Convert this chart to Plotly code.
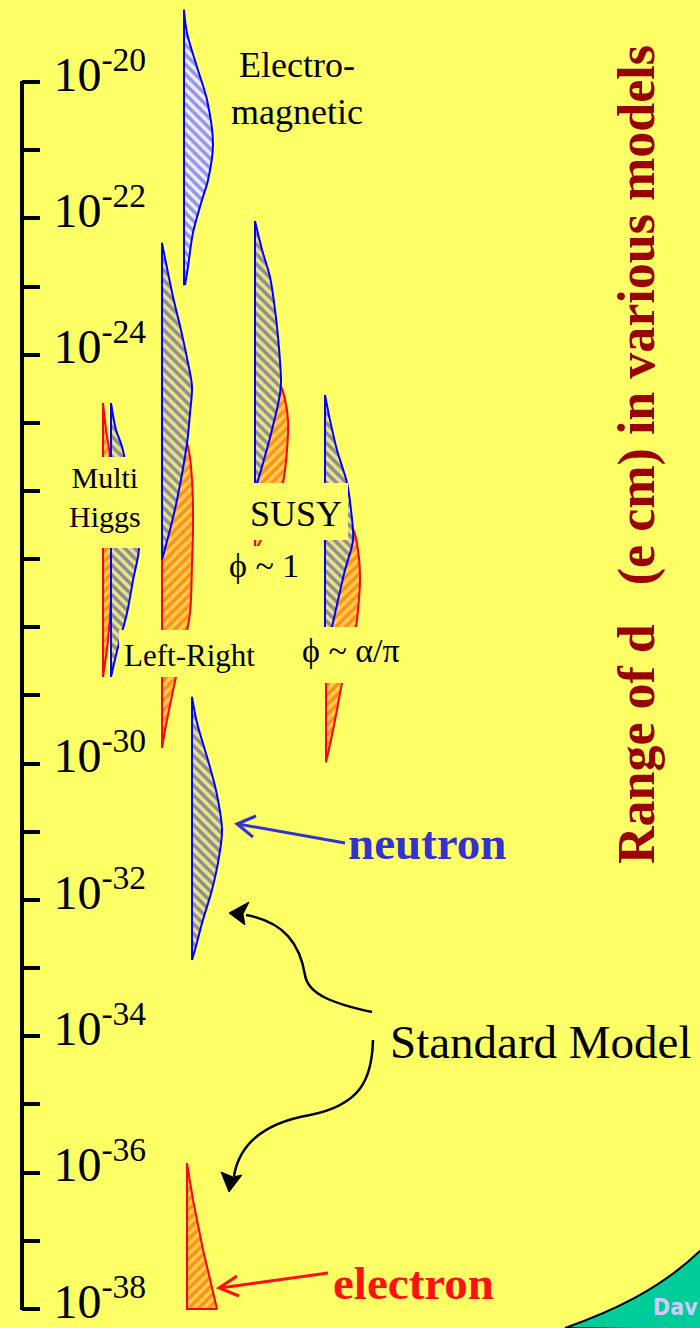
import plotly.graph_objects as go

# ---- data: log10(d / e cm) along each model's range, with relative density widths ----
em_logd = [-18.94, -19.28, -19.78, -20.26, -20.92, -21.44, -21.73, -22.21, -22.71, -22.98]
em_w = [0, 3, 13, 23, 29, 24, 18, 9, 4, 1]

mh_n_logd = [-24.71, -25.10, -25.35, -25.84, -26.43, -26.84, -27.31, -27.79, -28.29, -28.73]
mh_n_w = [0, 5, 11, 18, 25, 28, 22, 16, 7, 0]
mh_e_logd = [-24.71, -25.10, -25.50, -26.84, -27.60, -28.19, -28.73]
mh_e_w = [0, 3, 7, 9, 8, 5, 0]

lr_n_logd = [-22.36, -23.15, -23.64, -24.12, -24.47, -24.86, -25.30, -26.13, -26.57, -27.01]
lr_n_w = [0, 11, 19, 26, 30, 28, 25, 15, 8, 0]
lr_e_logd = [-24.66, -25.30, -25.84, -26.57, -27.06, -27.79, -28.33, -28.73, -29.07, -29.43, -29.77]
lr_e_w = [0, 25, 30, 31, 30, 28, 21, 14, 9, 4, 0]

susy1_n_logd = [-22.04, -22.46, -22.86, -23.34, -23.74, -24.42, -24.66, -25.10, -25.54, -25.99]
susy1_n_w = [0, 7, 15, 20, 23, 26, 24, 17, 9, 0]
susy1_e_logd = [-24.08, -24.44, -24.66, -24.96, -25.40, -25.88, -26.28, -26.72, -26.89]
susy1_e_w = [0, 25, 30, 33, 32, 28, 20, 6, 0]

susy2_n_logd = [-24.59, -24.96, -25.40, -25.88, -26.28, -26.72, -27.16, -27.60, -27.99, -28.33]
susy2_n_w = [0, 5, 12, 22, 26, 28, 20, 13, 7, 0]
susy2_e_logd = [-26.21, -26.53, -26.87, -27.31, -27.75, -27.99, -28.82, -29.21, -29.58, -29.98]
susy2_e_w = [0, 26, 32, 34, 32, 30, 16, 11, 6, 0]

sm_n_logd = [-29.02, -29.40, -29.90, -30.39, -30.97, -31.37, -31.85, -32.34, -32.73, -32.88]
sm_n_w = [0, 5, 15, 24, 30, 27, 20, 10, 3, 0]

sm_e_logd = [-35.86, -36.40, -37.13, -37.72, -38.00]
sm_e_w = [0, 6, 16, 25, 30]

# decade ticks on the scale; only some carry a printed label
labelled_exponents = [-20, -22, -24, -30, -32, -34, -36, -38]
unlabelled_exponents = [-21, -23, -25, -26, -27, -28, -29, -31, -33, -35, -37]
scale_top, scale_bottom = -20, -38

# ---- layout helpers (figure is 700 x 1328 px, x axis in px) ----
W, H = 700, 1328
AXIS_X = 22
BG = "#ffff66"
SERIF = "Liberation Serif, Times New Roman, serif"
Y_RANGE = [-38.279, -18.797]


def py(v):
    return 1 - v / H


def paper_of_log(v):
    return (v - Y_RANGE[0]) / (Y_RANGE[1] - Y_RANGE[0])


BLUE_HATCH = dict(shape="\\", fgcolor="#3030b8", bgcolor="#ebe67c", size=7, solidity=0.5)
BLUE_HATCH_LIGHT = dict(shape="\\", fgcolor="#3a3acc", bgcolor="#eeeeff", size=7, solidity=0.5)
RED_HATCH = dict(shape="/", fgcolor="#ff4a10", bgcolor="#ffd040", size=7, solidity=0.5)


def half_violin(fig, base, logd, w, pattern, line_color, smooth=True, flat_bottom=False):
    # flat edge (straight), then the density curve filled back to it
    ex = [base, base]
    ey = [10 ** logd[0], 10 ** logd[-1]]
    if flat_bottom:
        ex.append(base + w[-1])
        ey.append(10 ** logd[-1])
    fig.add_trace(go.Scatter(x=ex, y=ey, mode="lines",
                             line=dict(color=line_color, width=2),
                             hoverinfo="skip", showlegend=False))
    fig.add_trace(go.Scatter(
        x=[base + v for v in w], y=[10 ** v for v in logd], mode="lines", fill="tonextx",
        fillcolor=pattern["bgcolor"], fillpattern=pattern,
        line=dict(color=line_color, width=2,
                  shape="spline" if smooth else "linear", smoothing=0.9),
        hoverinfo="skip", showlegend=False,
    ))


fig = go.Figure()
# red = electron, blue = neutron; neutron drawn over electron
half_violin(fig, 184, em_logd, em_w, BLUE_HATCH_LIGHT, "#0000ff")
half_violin(fig, 103, mh_e_logd, mh_e_w, RED_HATCH, "#ff0000")
half_violin(fig, 111, mh_n_logd, mh_n_w, BLUE_HATCH, "#0000ff")
half_violin(fig, 162, lr_e_logd, lr_e_w, RED_HATCH, "#ff0000")
half_violin(fig, 162, lr_n_logd, lr_n_w, BLUE_HATCH, "#0000ff")
half_violin(fig, 255, susy1_e_logd, susy1_e_w, RED_HATCH, "#ff0000")
half_violin(fig, 255, susy1_n_logd, susy1_n_w, BLUE_HATCH, "#0000ff")
half_violin(fig, 326, susy2_e_logd, susy2_e_w, RED_HATCH, "#ff0000")
half_violin(fig, 325, susy2_n_logd, susy2_n_w, BLUE_HATCH, "#0000ff")
half_violin(fig, 192, sm_n_logd, sm_n_w, BLUE_HATCH, "#0000ff")
half_violin(fig, 187, sm_e_logd, sm_e_w, RED_HATCH, "#ff0000", smooth=False, flat_bottom=True)

shapes = []
# scale line spanning the labelled decades
shapes.append(dict(type="line", xref="paper", yref="paper",
                   x0=AXIS_X / W, x1=AXIS_X / W,
                   y0=paper_of_log(scale_bottom) - 1.0 / H, y1=paper_of_log(scale_top) + 1.0 / H,
                   line=dict(color="black", width=4)))

# label backgrounds that cut through the bands
for x0, x1, y0, y1 in [(62, 150, 457, 548), (240, 348, 483, 540), (225, 305, 546, 586),
                       (119, 262, 630, 677), (292, 410, 627, 683)]:
    shapes.append(dict(type="rect", xref="x", yref="paper", x0=x0, x1=x1,
                       y0=py(y1), y1=py(y0), fillcolor=BG, line=dict(width=0), layer="above"))


def pth(cmds):
    out = []
    for c in cmds:
        if isinstance(c, str):
            out.append(c)
        else:
            out.append("%.2f,%.5f" % (c[0], py(c[1])))
    return " ".join(out)


def stroke(cmds, color, width):
    shapes.append(dict(type="path", xref="x", yref="paper", path=pth(cmds),
                       line=dict(color=color, width=width), layer="above"))


def solid(cmds, color):
    shapes.append(dict(type="path", xref="x", yref="paper", path=pth(cmds),
                       fillcolor=color, line=dict(color=color, width=1), layer="above"))


# curved arrows from "Standard Model"
stroke(["M", (372, 1012), "C", (335, 1004), (308, 995), (305, 975),
        "C", (300, 945), (285, 922), (246, 915)], "black", 2.5)
solid(["M", (229, 913), "L", (249, 902), "L", (243, 914), "L", (245, 925), "Z"], "black")
stroke(["M", (373, 1040), "C", (372, 1080), (360, 1105), (310, 1115),
        "C", (270, 1122), (240, 1140), (234, 1176)], "black", 2.5)
solid(["M", (229, 1192), "L", (221, 1172), "L", (233, 1177), "L", (242, 1175), "Z"], "black")

# straight arrows pointing at the measured particles
stroke(["M", (345, 843), "L", (238, 824)], "#3333cc", 3)
stroke(["M", (253, 837), "L", (237, 824), "L", (256, 816)], "#3333cc", 3)
stroke(["M", (328, 1273), "L", (220, 1288)], "#ff1111", 3)
stroke(["M", (237, 1276), "L", (219, 1288), "L", (239, 1296)], "#ff1111", 3)

# corner banner
shapes.append(dict(type="path", xref="x", yref="paper",
                   path=pth(["M", (565, 1328), "C", (610, 1312), (660, 1290), (702, 1249),
                             "L", (702, 1330), "Z"]),
                   fillcolor="#00cc99", line=dict(color="black", width=2), layer="above"))

ann = []


def label(text, x, y, size, color="black", bold=False, xanchor="center", angle=0, family=SERIF):
    ann.append(dict(text="<b>%s</b>" % text if bold else text, x=x, y=py(y), xref="x", yref="paper",
                    xanchor=xanchor, yanchor="middle", showarrow=False, textangle=angle,
                    font=dict(family=family, size=size, color=color)))


label("Electro-<br>magnetic", 297, 88, 36)
label("Multi<br>Higgs", 105, 497, 30)
label("SUSY", 296, 514, 36)
label("\u03d5 ~ 1", 264, 565, 34)
label("Left-Right", 189, 656, 31)
label("\u03d5 ~ \u03b1/\u03c0", 351, 650, 34)
label("neutron", 346, 843, 47, color="#3333cc", bold=True, xanchor="left")
label("electron", 331, 1283, 47, color="#ff1111", bold=True, xanchor="left")
label("Standard Model", 388, 1042, 47, xanchor="left")
label("Range of d\u00a0\u00a0\u00a0(e cm) in various models", 637, 455, 52,
      color="#990000", bold=True, angle=-90)
label("Dav", 651, 1307, 23, color="#ccccff", bold=True, xanchor="left",
      family="Liberation Sans Narrow, DejaVu Sans Condensed, sans-serif")

fig.update_layout(
    width=W, height=H, margin=dict(l=0, r=0, t=0, b=0, autoexpand=False),
    paper_bgcolor=BG, plot_bgcolor="rgba(0,0,0,0)", showlegend=False,
    xaxis=dict(range=[AXIS_X, W], domain=[AXIS_X / W, 1], visible=False, automargin=False),
    yaxis=dict(
        type="log", range=Y_RANGE, domain=[0, 1], automargin=False,
        showline=False, showgrid=False, zeroline=False,
        ticks="inside", ticklen=18, tickwidth=4, tickcolor="black",
        tickmode="array",
        tickvals=[10.0 ** e for e in labelled_exponents],
        ticktext=["10<sup>-%d</sup>" % -e for e in labelled_exponents],
        minor=dict(ticks="inside", ticklen=18, tickwidth=4, tickcolor="black",
                   tickmode="array", tickvals=[10.0 ** e for e in unlabelled_exponents],
                   showgrid=False),
        ticklabelposition="inside", ticklabeloverflow="allow", ticklabelstandoff=20,
        ticklabelshift=-8,
        tickfont=dict(family=SERIF, size=48, color="black"),
    ),
    shapes=shapes, annotations=ann,
)

fig.write_html("out.html")
